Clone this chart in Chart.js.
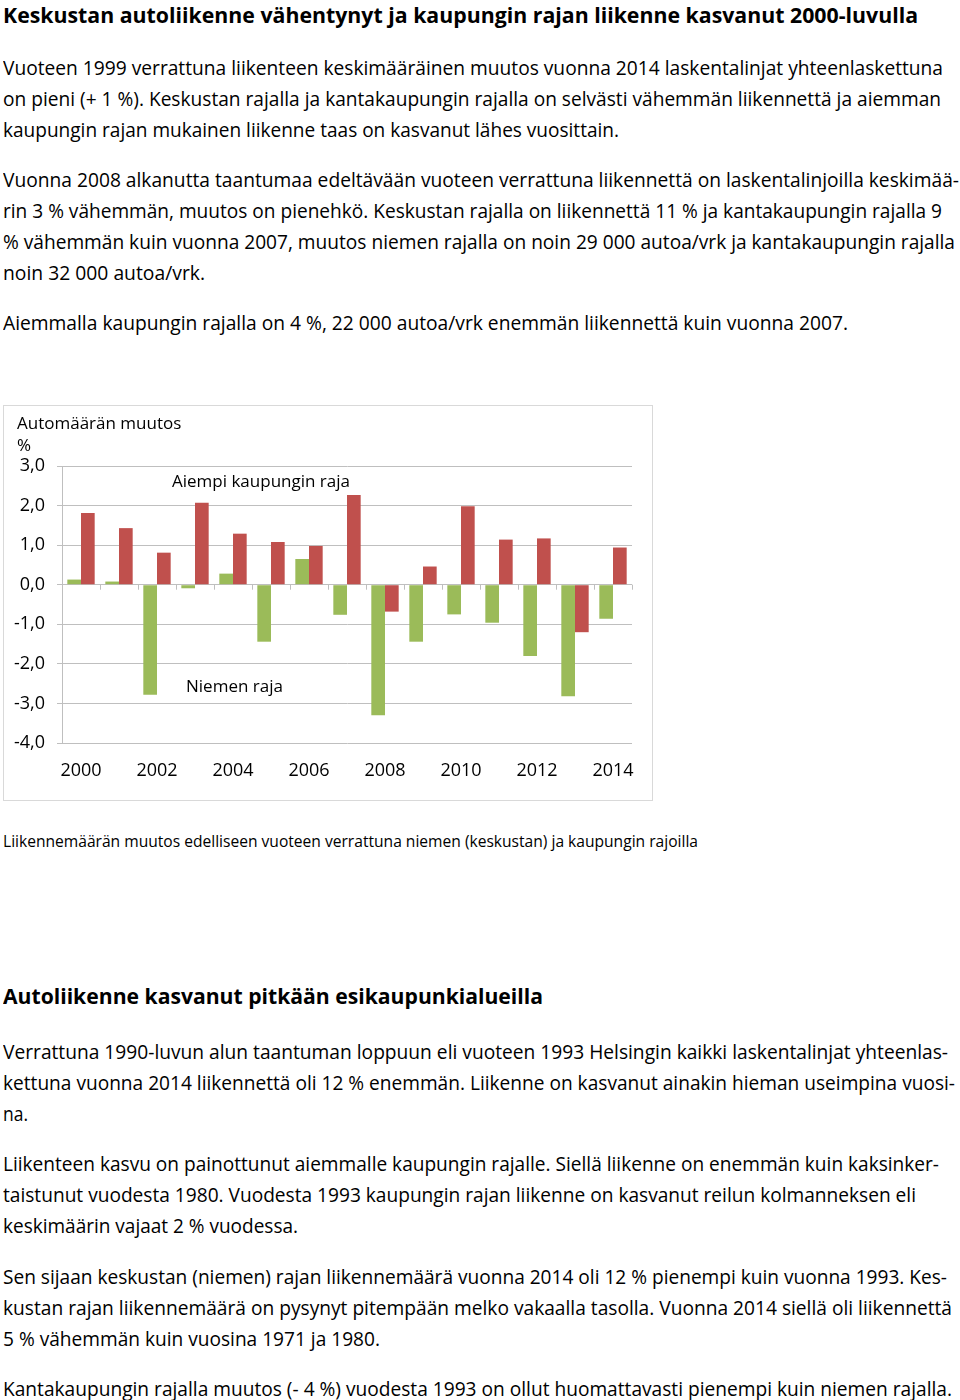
<!DOCTYPE html>
<html>
<head>
<meta charset="utf-8">
<script src="https://cdn.jsdelivr.net/npm/chart.js@4"></script>
<style>
  html, body { margin: 0; padding: 0; background: #fff; }
  body { width: 960px; height: 1400px; position: relative; overflow: hidden;
         font-family: 'Liberation Sans Narrow', 'Open Sans', sans-serif; color: #000; }
  .blk { position: absolute; left: 3px; line-height: 31px; font-size: 20px; white-space: nowrap; }
  .blk div { height: 31px; }
  .blk span { display: inline-block; transform-origin: 0 50%; }
  .h { font-weight: bold; font-size: 22px; }
  .t { line-height: 28px; }
  .t div { height: 28px; }
  .cap { font-size: 16px; }
  #box { position: absolute; left: 3px; top: 405px; width: 650px; height: 396px;
         border: 1px solid #d9d9d9; box-sizing: border-box; }
  #c { position: absolute; left: 0; top: 0; }
</style>
</head>
<body>

<div class="blk h t" style="top:0px"><div><span data-w="915">Keskustan autoliikenne vähentynyt ja kaupungin rajan liikenne kasvanut 2000-luvulla</span></div></div>

<div class="blk" style="top:52px">
  <div><span data-w="940">Vuoteen 1999 verrattuna liikenteen keskimääräinen muutos vuonna 2014 laskentalinjat yhteenlaskettuna</span></div>
  <div><span data-w="938">on pieni (+ 1 %). Keskustan rajalla ja kantakaupungin rajalla on selvästi vähemmän liikennettä ja aiemman</span></div>
  <div><span data-w="616">kaupungin rajan mukainen liikenne taas on kasvanut lähes vuosittain.</span></div>
</div>

<div class="blk" style="top:164px">
  <div><span data-w="956">Vuonna 2008 alkanutta taantumaa edeltävään vuoteen verrattuna liikennettä on laskentalinjoilla keskimää-</span></div>
  <div><span data-w="939">rin 3 % vähemmän, muutos on pienehkö. Keskustan rajalla on liikennettä 11 % ja kantakaupungin rajalla 9</span></div>
  <div><span data-w="952">% vähemmän kuin vuonna 2007, muutos niemen rajalla on noin 29 000 autoa/vrk ja kantakaupungin rajalla</span></div>
  <div><span data-w="202">noin 32 000 autoa/vrk.</span></div>
</div>

<div class="blk" style="top:307px">
  <div><span data-w="845">Aiemmalla kaupungin rajalla on 4 %, 22 000 autoa/vrk enemmän liikennettä kuin vuonna 2007.</span></div>
</div>

<div id="box"><canvas id="c" width="648" height="394"></canvas></div>

<div class="blk cap" style="top:826px">
  <div><span data-w="695">Liikennemäärän muutos edelliseen vuoteen verrattuna niemen (keskustan) ja kaupungin rajoilla</span></div>
</div>

<div class="blk h" style="top:980px"><div><span data-w="540">Autoliikenne kasvanut pitkään esikaupunkialueilla</span></div></div>

<div class="blk" style="top:1036px">
  <div><span data-w="945">Verrattuna 1990-luvun alun taantuman loppuun eli vuoteen 1993 Helsingin kaikki laskentalinjat yhteenlas-</span></div>
  <div><span data-w="952">kettuna vuonna 2014 liikennettä oli 12 % enemmän. Liikenne on kasvanut ainakin hieman useimpina vuosi-</span></div>
  <div><span data-w="25">na.</span></div>
</div>

<div class="blk" style="top:1148px">
  <div><span data-w="936">Liikenteen kasvu on painottunut aiemmalle kaupungin rajalle. Siellä liikenne on enemmän kuin kaksinker-</span></div>
  <div><span data-w="913">taistunut vuodesta 1980. Vuodesta 1993 kaupungin rajan liikenne on kasvanut reilun kolmanneksen eli</span></div>
  <div><span data-w="295">keskimäärin vajaat 2 % vuodessa.</span></div>
</div>

<div class="blk" style="top:1261px">
  <div><span data-w="944">Sen sijaan keskustan (niemen) rajan liikennemäärä vuonna 2014 oli 12 % pienempi kuin vuonna 1993. Kes-</span></div>
  <div><span data-w="949">kustan rajan liikennemäärä on pysynyt pitempään melko vakaalla tasolla. Vuonna 2014 siellä oli liikennettä</span></div>
  <div><span data-w="377">5 % vähemmän kuin vuosina 1971 ja 1980.</span></div>
</div>

<div class="blk" style="top:1373px">
  <div><span data-w="949">Kantakaupungin rajalla muutos (- 4 %) vuodesta 1993 on ollut huomattavasti pienempi kuin niemen rajalla.</span></div>
</div>

<script>
// ---- data ----
const years = ['2000','2001','2002','2003','2004','2005','2006','2007','2008','2009','2010','2011','2012','2013','2014'];
const niemenRaja = [0.13, 0.08, -2.78, -0.09, 0.28, -1.44, 0.65, -0.76, -3.30, -1.44, -0.75, -0.96, -1.80, -2.82, -0.86];
const aiempiKaupunginRaja = [1.81, 1.43, 0.81, 2.07, 1.29, 1.08, 0.98, 2.27, -0.68, 0.46, 1.98, 1.14, 1.17, -1.20, 0.94];
const yTicks = [3, 2, 1, 0, -1, -2, -3, -4];
const yTitle = ['Automäärän muutos', '%'];
const seriesNames = ['Niemen raja', 'Aiempi kaupungin raja'];

// fit text lines to reference widths
document.querySelectorAll('.blk span').forEach(s => {
  const w = s.getBoundingClientRect().width;
  const t = parseFloat(s.dataset.w);
  if (w > 0) s.style.transform = 'scaleX(' + (t / w) + ')';
});

const FONT = "'Liberation Sans Narrow', 'Open Sans', sans-serif";
const GRID = '#bfbfbf';

const decor = {
  id: 'decor',
  afterDatasetsDraw(chart) {
    const ctx = chart.ctx;
    const xs = chart.scales.x, ys = chart.scales.y;
    const y0 = ys.getPixelForValue(0);
    const n = years.length;
    const cw = (xs.right - xs.left) / n;
    ctx.save();
    ctx.strokeStyle = GRID;
    ctx.lineWidth = 1;
    for (let i = 1; i <= n; i++) {
      const x = Math.round(xs.left + i * cw) + 0.5;
      ctx.beginPath();
      ctx.moveTo(x, y0);
      ctx.lineTo(x, y0 + 5);
      ctx.stroke();
    }
    ctx.fillStyle = '#000';
    ctx.font = '17px ' + FONT;
    ctx.textBaseline = 'middle';
    ctx.textAlign = 'left';
    ctx.fillText(yTitle[0], 13, 18);
    ctx.fillText(yTitle[1], 13, 40);
    ctx.fillText(seriesNames[1], xs.left + 110, ys.getPixelForValue(2.6));
    ctx.fillText(seriesNames[0], xs.left + 124, ys.getPixelForValue(-2.58));
    ctx.restore();
  }
};

new Chart(document.getElementById('c'), {
  type: 'bar',
  data: {
    labels: years,
    datasets: [
      { label: seriesNames[0], data: niemenRaja, backgroundColor: '#9bbb59' },
      { label: seriesNames[1], data: aiempiKaupunginRaja, backgroundColor: '#c0504d' }
    ]
  },
  options: {
    responsive: false,
    animation: false,
    devicePixelRatio: 1,
    layout: { padding: { top: 60, right: 20, left: 0, bottom: 0 } },
    plugins: { legend: { display: false }, tooltip: { enabled: false } },
    datasets: { bar: { categoryPercentage: 0.72, barPercentage: 1.0 } },
    scales: {
      x: {
        grid: { display: false },
        border: { display: false },
        ticks: {
          autoSkip: false, maxRotation: 0, color: '#000', padding: 9,
          font: { size: 18, family: FONT },
          callback: function(v, i) { return i % 2 === 0 ? this.getLabelForValue(v) : ''; }
        },
        afterFit: s => { s.height = 57; }
      },
      y: {
        min: -4, max: 3,
        afterBuildTicks: s => { s.ticks = yTicks.map(v => ({ value: v })); },
        grid: { color: GRID, tickLength: 5, drawTicks: true },
        border: { display: true, color: GRID },
        ticks: {
          color: '#000', padding: 12,
          font: { size: 18, family: FONT },
          callback: v => v.toFixed(1).replace('.', ',')
        },
        afterFit: s => { s.width = 58; }
      }
    }
  },
  plugins: [decor]
});
</script>
</body>
</html>
